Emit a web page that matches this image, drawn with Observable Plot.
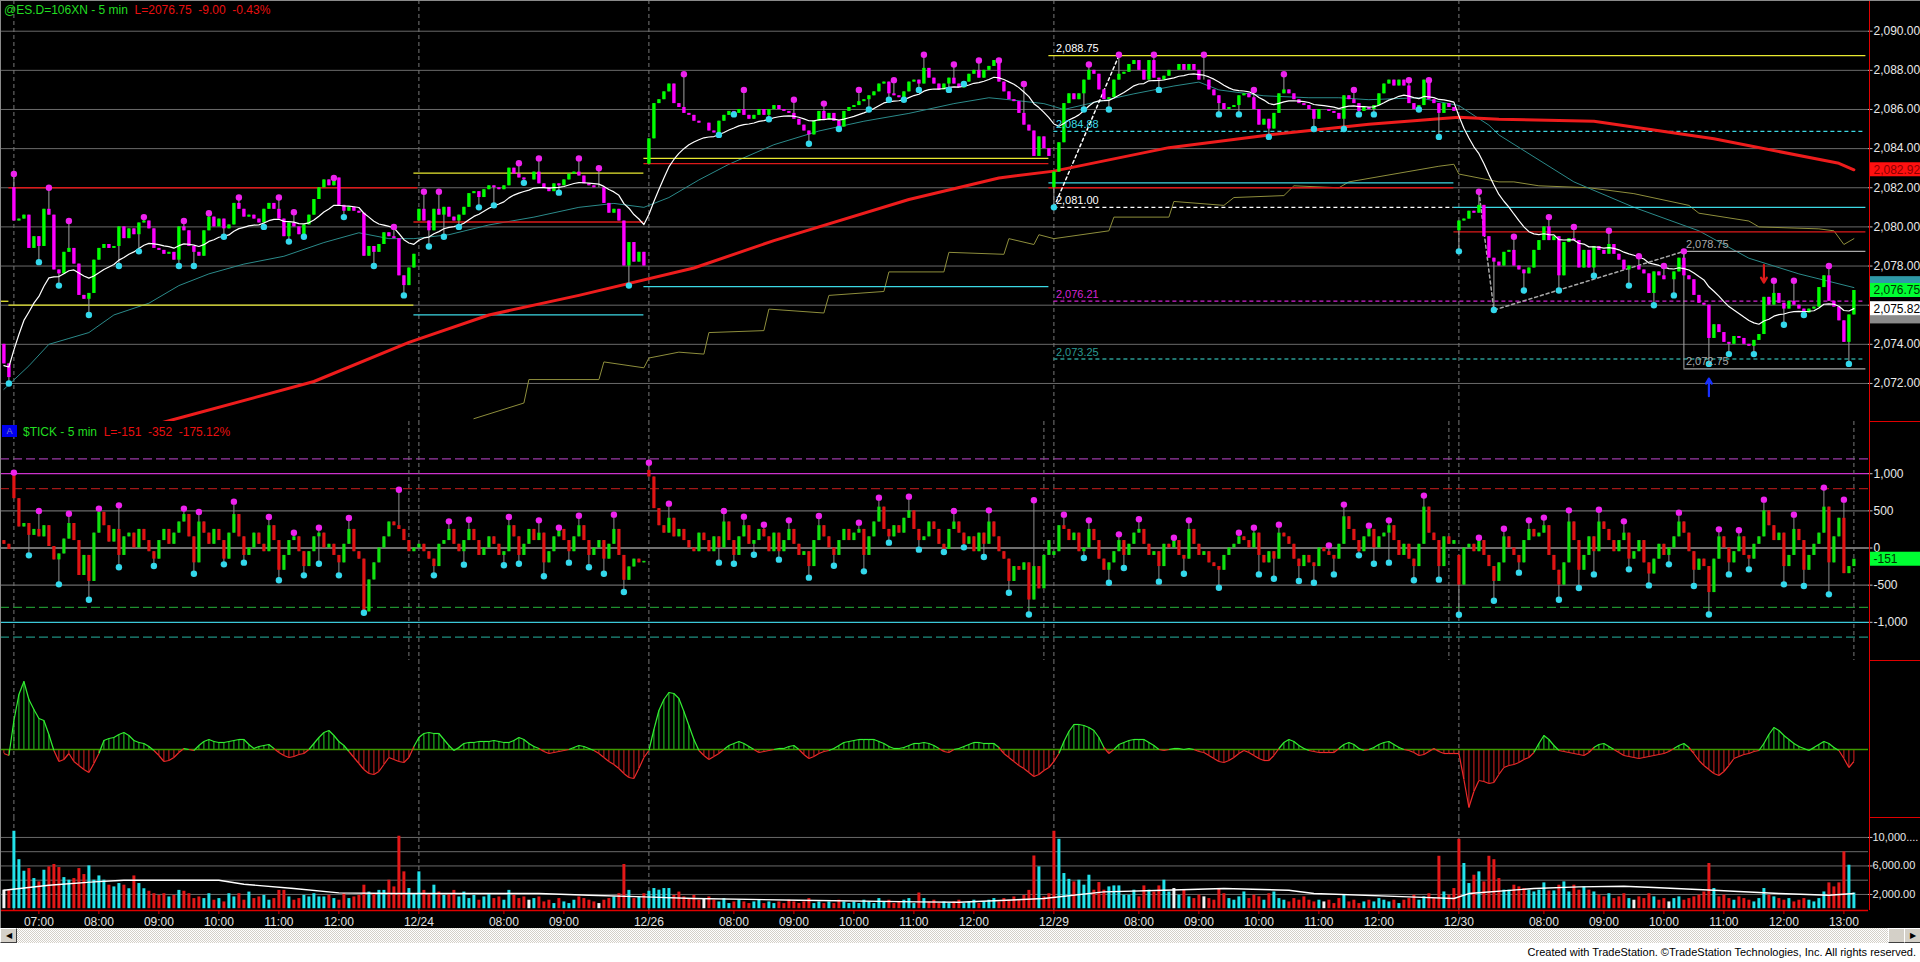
<!DOCTYPE html>
<html><head><meta charset="utf-8">
<script src="https://cdn.jsdelivr.net/npm/d3@7"></script>
<script src="https://cdn.jsdelivr.net/npm/@observablehq/plot@0.6"></script>
<style>
html,body{margin:0;padding:0;background:#fff;width:1920px;height:962px;overflow:hidden;font-family:"Liberation Sans",Arial,sans-serif}
#chart{position:absolute;left:0;top:0;width:1920px;height:928px;background:#000;overflow:hidden}
.panel{position:absolute;left:0}
.ln{position:absolute;background:#e00000}
#hdr1{position:absolute;left:4px;top:3px;font-size:12px;white-space:pre;z-index:5}
#hdr2{position:absolute;left:23px;top:425px;font-size:12px;white-space:pre;z-index:5}
#abox{position:absolute;left:2px;top:425px;width:15px;height:12px;background:#0000ee;color:#8080c0;font-size:9px;text-align:center;line-height:12px;z-index:5}
#scroll{position:absolute;left:0;top:928px;width:1920px;height:15px;background:repeating-conic-gradient(#ffffff 0 25%,#d4d0c8 0 50%) 0 0/2px 2px}
.btn{position:absolute;top:0;width:15px;height:13px;background:#d4d0c8;border:1px solid;border-color:#fff #404040 #404040 #fff;font-size:8px;line-height:13px;text-align:center;color:#000}
#footer{position:absolute;left:0;top:943px;width:1916px;height:19px;background:#fff;text-align:right;font-size:11px;line-height:19px;color:#000;padding-right:4px}
</style></head>
<body>
<div id="chart"></div>
<div id="scroll"><div class="btn" style="left:0">&#9664;</div><div class="btn" style="left:1888px"></div><div class="btn" style="left:1904px">&#9654;</div></div>
<div id="footer">Created with TradeStation. &copy;TradeStation Technologies, Inc. All rights reserved.</div>
<script>
// ===================== DATA =====================
const dayLabels = ["12/23","12/24","12/26","12/29","12/30"];
const dayStarts = [2, 83, 129, 210, 291];
const sessionStart = "06:35";
const dayHourLabels = [
  ["07:00","08:00","09:00","10:00","11:00","12:00"],
  ["08:00","09:00"],
  ["08:00","09:00","10:00","11:00","12:00"],
  ["08:00","09:00","10:00","11:00","12:00"],
  ["08:00","09:00","10:00","11:00","12:00","13:00"]
];
const showDateLabel = [false, true, true, true, true];

// ES 5-min closes (first segment = tail of 12/22)
const priceOpens = [2074.0, 2082.0, 2080.3, 2083.2, 2082.0, 2079.8];
const close1222 = [2073.0, 2072.3];
const close1223 = [
2080.3,2080.4,2080.6,2078.9,2079.5,2079.0,2080.9,2080.6,2077.8,2077.6,
2078.7,2078.9,2078.1,2076.5,2076.3,2076.6,2078.3,2078.9,2079.1,2078.9,
2079.0,2080.0,2079.4,2079.9,2079.6,2080.2,2080.3,2079.9,2078.9,2078.8,
2078.6,2078.7,2078.3,2080.0,2079.8,2079.0,2078.7,2078.5,2079.8,2080.5,
2080.0,2080.4,2079.9,2080.1,2081.2,2080.9,2080.5,2080.6,2080.4,2080.2,
2080.9,2081.2,2080.9,2080.4,2079.5,2080.2,2080.0,2079.6,2080.1,2080.6,
2081.4,2082.0,2082.4,2082.1,2082.5,2081.1,2080.8,2081.0,2080.8,2080.7,
2078.5,2079.0,2078.7,2079.1,2079.7,2079.5,2079.4,2077.5,2077.0,2077.9,
2078.6];
const close1224 = [
2080.9,2080.3,2079.8,2080.9,2080.6,2081.0,2080.5,2080.3,2080.6,2081.0,
2081.7,2081.8,2081.5,2081.9,2082.1,2082.0,2081.9,2082.1,2083.0,2082.7,
2082.5,2082.4,2082.4,2082.8,2082.2,2082.0,2081.8,2082.2,2082.1,2082.4,
2082.7,2082.8,2082.6,2082.2,2082.1,2082.0,2082.0,2081.2,2080.7,2080.9,
2080.3,2078.0,2079.2,2078.2,2078.7,2078.0];
const close1226 = [
2084.5,2086.3,2086.5,2086.9,2087.3,2086.3,2086.1,2085.8,2085.7,2085.4,
2085.3,2085.3,2084.9,2084.8,2085.4,2085.7,2085.9,2085.8,2086.0,2085.7,
2085.5,2085.7,2086.0,2085.7,2086.0,2086.2,2086.0,2085.9,2085.8,2085.5,
2085.2,2084.9,2084.7,2085.4,2085.9,2085.5,2085.8,2085.4,2085.1,2085.9,
2086.1,2086.2,2086.4,2086.5,2086.7,2086.9,2087.3,2087.4,2086.8,2086.7,
2086.6,2086.9,2087.4,2087.5,2087.3,2088.1,2087.6,2087.3,2087.0,2087.3,
2087.6,2087.3,2087.1,2087.4,2087.8,2088.0,2087.6,2088.0,2088.2,2088.5,
2087.4,2086.9,2086.5,2086.4,2085.8,2085.2,2084.9,2083.6,2084.6,2084.0,
2083.6];
const close1229 = [
2082.8,2084.3,2086.3,2086.8,2086.5,2086.8,2087.5,2088.0,2087.8,2087.0,
2086.5,2086.6,2087.5,2087.8,2087.9,2088.3,2088.5,2088.0,2087.5,2088.5,
2087.6,2087.5,2087.7,2088.0,2088.0,2088.3,2088.0,2088.3,2088.0,2087.5,
2087.5,2087.0,2086.7,2086.3,2086.0,2086.1,2086.2,2086.7,2086.8,2086.6,
2086.0,2085.2,2085.5,2085.0,2085.8,2086.8,2087.0,2086.8,2086.5,2086.3,
2086.2,2086.0,2085.5,2086.0,2086.0,2085.9,2085.8,2085.5,2086.7,2086.5,
2086.3,2085.9,2086.1,2086.0,2086.2,2086.8,2087.3,2087.5,2087.2,2087.5,
2087.2,2086.3,2086.0,2086.2,2087.5,2086.5,2086.3,2085.8,2086.3,2086.1,
2085.9];
const close1230 = [
2080.3,2080.4,2080.8,2080.7,2081.1,2079.5,2078.4,2078.2,2078.0,2078.7,
2078.8,2078.0,2077.8,2077.6,2077.9,2078.8,2079.3,2080.0,2079.3,2079.5,
2077.5,2079.2,2079.4,2079.3,2077.9,2078.8,2077.9,2079.0,2078.8,2078.6,
2079.1,2078.6,2078.3,2077.8,2078.0,2078.0,2077.8,2077.6,2076.6,2077.7,
2077.5,2077.3,2077.3,2077.7,2078.4,2077.5,2077.3,2076.5,2076.1,2076.0,
2074.3,2075.0,2074.6,2074.1,2074.0,2074.4,2074.3,2074.0,2073.9,2074.2,
2074.5,2076.4,2076.0,2076.6,2076.1,2075.8,2076.2,2076.0,2075.8,2075.6,
2075.8,2075.9,2076.9,2077.5,2076.2,2075.9,2075.2,2074.1,2075.5,2076.75];

// swing-high (magenta) and swing-low (cyan) markers: [bar, price]
const priceHighs = [[2,2082.7],[9,2082.0],[13,2080.3],[28,2080.5],[36,2080.3],[41,2080.7],[47,2081.5],[55,2081.5],[58,2080.75],[66,2082.5],[78,2080.0],
[84,2081.8],[87,2081.8],[103,2083.25],[107,2083.5],[115,2083.5],[119,2083.0],
[136,2087.8],[148,2087.0],[158,2086.5],[164,2086.3],[171,2087.0],[178,2087.5],[184,2088.8],[190,2088.3],[195,2088.5],[199,2088.5],[204,2087.3],
[217,2088.3],[223,2088.8],[230,2088.8],[240,2088.8],[250,2087.0],[256,2087.8],[270,2087.0],[281,2087.5],[285,2087.5],
[295,2081.8],[302,2079.5],[309,2080.5],[314,2080.0],[321,2079.8],[327,2078.5],[332,2078.0],[336,2078.75],[354,2077.25],[358,2077.25],[365,2078.0]];
const priceLows = [[1,2072.0],[7,2078.2],[11,2077.0],[17,2075.5],[23,2078.0],[27,2078.75],[35,2078.0],[38,2078.0],[44,2079.5],[52,2080.0],[57,2079.25],[60,2079.5],[68,2080.5],[74,2078.0],[80,2076.5],
[85,2079.0],[88,2079.5],[91,2080.0],[95,2081.0],[98,2081.1],[104,2082.25],[111,2081.75],[125,2077.0],
[143,2084.7],[146,2085.75],[153,2085.5],[161,2084.25],[167,2085.0],[173,2086.0],[177,2086.5],[180,2086.5],[183,2087.0],[189,2087.0],[192,2087.3],
[210,2081.0],[216,2086.0],[221,2086.0],[231,2087.0],[243,2085.75],[247,2085.75],[253,2084.6],[262,2085.0],[268,2085.0],[271,2085.75],[274,2085.75],[283,2086.0],[287,2084.6],
[291,2078.75],[298,2075.75],[304,2076.75],[311,2076.75],[318,2077.5],[325,2077.0],[330,2076.0],[334,2076.5],[341,2073.0],[345,2073.5],[350,2073.5],[356,2075.0],[360,2075.5],[369,2073.0]];

// averages: [bar, price]
const fastAvgSeed = 2072.9, fastAvgLength = 16;
const tealAvg = [[0,2071.7],[5,2072.9],[9,2074.0],[13,2074.3],[17,2074.6],[22,2075.5],[29,2076.1],[35,2077.0],[41,2077.6],[48,2078.1],[56,2078.5],[64,2079.2],[71,2079.7],[77,2079.4],[82,2079.4],[89,2079.6],[97,2080.1],[106,2080.5],[115,2081.0],[122,2081.2],[128,2081.0],[133,2081.5],[139,2082.4],[145,2083.2],[154,2084.2],[163,2084.9],[172,2085.4],[181,2085.8],[190,2086.3],[197,2086.6],[201,2086.5],[208,2086.3],[212,2086.0],[217,2086.3],[226,2086.8],[234,2087.2],[239,2087.4],[243,2087.0],[252,2086.7],[261,2086.6],[267,2086.6],[273,2086.5],[283,2086.6],[291,2086.2],[297,2085.2],[299,2084.7],[314,2082.3],[326,2081.0],[339,2079.8],[349,2078.4],[359,2077.6],[370,2076.9]];
const redAvg = [[20,2069.2],[36,2070.3],[62,2072.1],[81,2074.1],[97,2075.5],[115,2076.5],[138,2077.9],[154,2079.3],[181,2081.4],[199,2082.5],[210,2082.85],[233,2084.05],[253,2084.7],[273,2085.25],[291,2085.6],[299,2085.5],[318,2085.4],[342,2084.5],[367,2083.25],[370,2082.92]];
const oliveAvg = [[94,2070.2],[104,2071.0],[105,2072.2],[119,2072.2],[120,2073.1],[128,2072.8],[129,2073.3],[135,2073.6],[140,2073.5],[141,2074.6],[152,2074.7],[153,2075.8],[164,2075.6],[165,2076.5],[176,2076.7],[177,2077.7],[188,2077.7],[189,2078.7],[200,2078.6],[201,2079.4],[206,2079.1],[207,2079.6],[210,2079.4],[221,2079.8],[222,2080.5],[233,2080.5],[234,2081.3],[244,2081.1],[246,2081.5],[256,2081.6],[258,2082.1],[267,2082.0],[269,2082.3],[287,2083.1],[290,2083.2],[291,2082.7],[299,2082.3],[302,2082.3],[307,2082.1],[317,2082.0],[326,2081.7],[337,2081.1],[339,2080.7],[349,2080.3],[351,2080.0],[363,2079.9],[366,2079.8],[368,2079.1],[370,2079.4]];

// horizontal levels: from bar, to bar, price, kind
const END = 372.4;
const priceLevels = [
  {a:-0.7,b:1,p:2076.2,k:"yellow"},
  {a:1,b:82.8,p:2082.0,k:"red"},{a:1,b:82,p:2076.0,k:"yellow"},
  {a:82,b:128,p:2082.75,k:"yellow"},{a:82,b:128,p:2080.25,k:"red"},{a:82,b:128,p:2075.5,k:"cyan"},
  {a:128,b:209,p:2083.5,k:"yellow"},{a:128,b:209,p:2083.23,k:"red"},{a:128,b:209,p:2076.95,k:"cyan"},
  {a:209,b:290,p:2082.25,k:"cyan"},{a:209,b:290,p:2082.0,k:"red"},{a:209,b:END,p:2088.75,k:"yellow"},
  {a:290,b:END,p:2081.0,k:"cyan"},{a:290,b:END,p:2079.75,k:"red"},
  {a:336,b:END,p:2078.75,k:"gray"},{a:336,b:END,p:2072.75,k:"gray"}
];
const priceDashedLevels = [
  {a:210,b:END,p:2084.88,k:"cyan"},{a:210,b:290,p:2081.0,k:"white"},
  {a:210,b:END,p:2076.21,k:"magenta"},{a:210,b:END,p:2073.25,k:"teal"}
];
const boxSide = [{i:336, p1:2078.75, p2:2072.75}];
const levelLabels = [
  {i:210,p:2088.75,t:"2,088.75",k:"white"},{i:210,p:2084.88,t:"2,084.88",k:"cyan"},
  {i:210,p:2081.00,t:"2,081.00",k:"white"},{i:210,p:2076.21,t:"2,076.21",k:"magenta"},
  {i:210,p:2073.25,t:"2,073.25",k:"teal"},{i:336,p:2078.75,t:"2,078.75",k:"gray"},
  {i:336,p:2072.75,t:"2,072.75",k:"gray"}
];
const zigzag = [
  {g:"a",i:210,p:2081.0,k:"white"},{g:"a",i:223,p:2088.75,k:"white"},
  {g:"b",i:295,p:2081.8,k:"gray"},{g:"b",i:298,p:2075.75,k:"gray"},{g:"b",i:336,p:2078.75,k:"gray"}
];
const arrows = [{i:352,from:2078.05,to:2077.15,k:"red"},{i:341,from:2071.35,to:2072.25,k:"blue"}];
const priceTicks = [2072,2074,2076,2078,2080,2082,2084,2086,2088,2090];
const priceTickLabelsShown = [2072,2074,2078,2080,2082,2084,2086,2088,2090];
// price tags on the axis; teal and gray ones sit behind the others (text hidden)
const priceTagsBehind = [{v:2077.10,k:"teal"},{v:2075.40,k:"gray"}];
const priceTags = [
  {v:2082.92,t:"2,082.92",k:"red"},{v:2076.75,t:"2,076.75",k:"green"},{v:2075.82,t:"2,075.82",k:"white"}
];

// $TICK 5-min closes
const tickOpens = [100, 1015, 0, 1045, -100, -100];
const tick1222 = [50,-20];
const tick1223 = [
664,283,330,170,250,150,300,20,-160,-80,
120,330,100,-370,-100,-450,200,480,300,80,
250,-100,150,200,0,250,100,-50,-150,100,
250,50,200,350,450,150,-200,350,200,50,
250,100,-150,200,450,150,-100,0,200,50,
-50,300,100,-300,-100,100,150,-50,-250,-50,
150,200,0,50,-100,-200,50,250,-50,-150,
-860,-430,-200,0,150,350,300,250,100,-50,
0];
const tick1224 = [
50,-50,-150,-250,50,100,250,50,-50,100,
250,100,-100,0,150,50,-100,-50,300,150,
-100,50,250,100,200,-200,-50,150,250,100,
-50,150,300,100,-100,0,100,-150,50,250,
-100,-435,-255,-150,-200,-180];
const tick1226 = [
955,530,300,200,400,150,250,100,0,-50,
200,100,-50,150,0,350,100,-100,150,300,
50,100,250,150,-50,200,-50,100,250,50,
-100,-50,-250,100,300,150,0,-100,100,250,
100,200,250,-100,150,350,550,250,150,300,
200,400,500,250,100,150,350,250,50,-20,
250,350,200,50,150,-50,200,50,350,150,
-50,-150,-450,-250,-300,-200,-700,-250,-550,-100,
100];
const tick1229 = [
-50,300,250,100,200,-50,0,250,100,-150,
-300,-200,-50,100,-100,50,200,250,50,-100,
-50,-250,50,0,100,-100,-150,250,50,-100,
-50,-200,-250,-300,-100,0,50,150,100,0,
200,-100,-200,-50,-150,200,150,50,-150,-250,
-100,-200,-250,0,-50,-100,-150,50,420,250,
100,-50,150,250,0,150,200,300,100,-100,
50,-150,-250,50,550,200,100,-250,150,50,
100];
const tick1230 = [
-500,0,50,-50,100,-100,-250,-450,-200,150,
0,-100,-200,100,250,150,200,300,-100,-300,
-500,-200,350,100,-300,-100,150,-50,350,250,
100,-50,100,200,-150,-50,100,-200,-350,-150,
50,-100,0,150,350,200,-50,-300,-150,-250,
-600,-150,150,0,-200,-50,150,-100,-150,50,
150,500,300,100,200,-250,-100,250,100,-300,
-100,50,200,550,-200,150,400,-345,-250,-151];
const tickHighs = [[2,1015],[7,498],[13,462],[19,530],[23,574],[36,530],[39,485],[46,624],[53,417],[58,206],[63,274],[69,404],[79,785],[89,359],[93,381],[101,417],[107,372],[111,274],[115,435],[122,449],[129,1149],[133,597],[144,498],[148,422],[152,314],[157,372],[163,431],[171,341],[175,678],[181,691],[190,498],[197,507],[206,642],[212,449],[217,372],[223,184],[227,386],[234,139],[237,372],[247,206],[250,274],[255,314],[265,36],[268,584],[273,301],[277,372],[284,705],[295,139],[300,260],[305,372],[308,409],[313,507],[319,516],[324,359],[335,476],[343,251],[347,238],[352,651],[358,449],[364,813],[368,651]];
const tickLows = [[5,-99],[11,-489],[17,-696],[23,-260],[30,-242],[38,-346],[44,-220],[48,-197],[55,-435],[60,-368],[63,-211],[67,-368],[72,-871],[86,-368],[92,-224],[100,-233],[103,-211],[108,-381],[113,-197],[117,-260],[120,-346],[124,-592],[143,-197],[146,-211],[150,-90],[155,-157],[161,-399],[166,-238],[172,-314],[177,72],[183,-22],[188,-54],[192,9],[196,-121],[201,-602],[205,-894],[216,-135],[221,-467],[224,-269],[231,-453],[236,-346],[243,-534],[251,-355],[254,-413],[259,-444],[262,-467],[266,-355],[271,-99],[274,-211],[277,-197],[282,-435],[287,-426],[291,-898],[298,-709],[303,-332],[311,-696],[315,-539],[318,-355],[325,-287],[329,-503],[333,-220],[338,-512],[341,-894],[345,-355],[349,-287],[356,-489],[360,-512],[365,-624]];
const tickBands = [{v:1200,k:"purpleD"},{v:1000,k:"magenta"},{v:800,k:"redD"},{v:500,k:"grid"},{v:0,k:"zero"},{v:-500,k:"grid"},{v:-800,k:"greenD"},{v:-1000,k:"cyan"},{v:-1200,k:"tealD"}];
const tickTicks = [1000,500,0,-500,-1000];
const tickTags = [{v:-151,t:"-151",k:"green"}];
const tickSessionEnds = [81, 208, 289, 370];

// oscillator (one value per bar, zero = centre line)
const osc = [
-4,-6,29,55,68,50,40,31,29,15,
-1,-12,-10,-4,-12,-16,-20,-23,-14,-4,
9,11,12,15,17,14,9,7,6,3,
-1,-6,-12,-11,-8,-3,1,0,-1,4,
8,10,8,7,7,8,9,10,10,5,
1,3,4,5,1,-3,-6,-8,-7,-5,
-4,0,6,12,17,19,14,8,4,-2,
-8,-14,-20,-24,-25,-22,-15,-8,-10,-12,
-13,-8,3,12,16,17,16,16,10,4,
-1,2,6,7,7,8,8,8,9,8,
7,7,9,12,10,6,3,1,-2,-4,
-3,-2,-1,0,2,4,3,1,-1,-4,
-8,-12,-15,-19,-24,-28,-29,-19,-8,-1,
20,39,50,57,56,51,38,24,10,-1,
-6,-10,-7,-4,0,4,6,8,6,3,
0,-3,-2,-1,0,1,1,3,4,0,
-5,-9,-7,-4,-2,-1,1,4,7,8,
9,10,10,10,10,8,6,3,1,1,
2,4,6,6,7,6,4,1,-2,-3,
0,1,3,5,7,7,6,6,6,2,
-4,-8,-12,-16,-19,-23,-27,-25,-21,-18,
-12,-4,8,18,25,25,24,22,19,12,
2,-4,0,5,7,9,10,10,10,7,
4,0,-1,0,1,1,0,1,0,-2,
-3,-6,-9,-12,-13,-11,-8,-4,-1,-3,
-6,-9,-11,-11,-6,1,7,10,8,4,
1,-1,-2,-3,-3,-3,-3,1,5,7,
5,1,-1,0,2,5,7,8,5,2,
0,-1,-3,-6,-5,-2,1,-2,-4,-4,
-4,-4,-30,-58,-42,-31,-32,-34,-33,-25,
-18,-16,-15,-13,-10,-8,-3,6,14,10,
4,-1,-2,-3,-4,-5,-6,-3,2,5,
6,3,0,-3,-6,-7,-8,-9,-8,-7,
-6,-5,-4,-2,1,4,6,2,-4,-11,
-16,-20,-24,-26,-22,-16,-9,-7,-5,-4,
-2,-1,6,15,22,19,14,10,6,3,
1,-1,2,5,8,6,2,-1,-9,-18,
-12];

// volume per bar
const vol1222 = [2600,2600];
const vol1223 = [
10870,6880,5260,5630,4230,3765,5400,5870,6200,5775,
4365,4000,4230,5630,4795,6010,4000,4600,4000,3300,
3060,3530,3300,2800,4600,3530,2800,2450,2100,1870,
2100,1650,1870,2570,2450,2100,1420,1650,1420,2100,
1190,1420,950,2100,1650,2100,1190,2330,1420,1650,
1870,1190,1420,2570,2570,1650,1190,1420,1870,1650,
2100,1650,1650,1870,1420,1190,2100,1420,1650,1870,
3300,2330,2100,2570,2570,4000,3060,10170,5170,2830,
2000];
const vol1224 = [
5170,2570,2100,3300,2330,1870,2100,2570,1650,2330,
1420,1870,1190,1650,2100,1420,1650,1190,2570,1870,
1420,1650,1190,1420,1650,950,1190,720,1420,950,
720,1190,1650,1420,1190,950,720,1190,1420,1650,
2100,6200,2570,1420,1650,2100];
const vol1226 = [
2450,2830,2600,2830,2830,1870,2330,1650,1420,1870,
1190,1420,1650,1190,950,1420,720,950,1190,950,
720,950,1190,720,950,720,950,720,1190,950,
720,950,1420,720,950,720,950,720,1190,950,
720,950,720,1190,950,720,1420,950,1190,720,
950,1190,1420,720,2200,1420,950,1190,720,950,
720,950,1190,720,950,1190,720,950,1190,1420,
950,1420,1190,1650,1190,1870,2570,7400,5870,1650,
2100];
const vol1229 = [
10870,9740,4935,4120,3765,4000,3300,4700,2600,3670,
2600,3060,3200,3200,1900,1900,2600,1660,3200,2600,
2350,3200,4000,2350,2830,1900,2600,1660,1420,1900,
1660,1420,1190,2830,2100,1420,1190,1660,2350,1420,
1900,1660,1190,2100,2350,1420,1190,950,1420,1190,
1660,1190,950,1190,950,1190,720,1420,1900,950,
1190,720,950,1190,950,1420,1190,950,1190,720,
1190,1420,1900,1190,1660,2100,1420,7360,2350,1900,
2830];
const vol1230 = [
9740,6340,3530,4700,5170,3765,7360,6880,4230,2600,
2600,3300,3060,2830,2600,2350,2600,3625,2500,2500,
3300,3765,2350,3300,2600,3060,2600,2350,1900,1660,
2100,1420,1660,2100,1420,1190,1660,1420,2100,1660,
1190,1420,950,1420,1660,1190,1420,1660,1900,2350,
6340,2830,1660,1900,1420,1190,1660,1420,1190,950,
1420,2830,1900,1660,1420,1190,1420,950,1190,1420,
1190,950,1420,2350,3625,3060,3625,7975,6100,2200];
const volAvg = [[0,2596],[9,3297],[18,3766],[24,4000],[43,4000],[48,3437],[58,2830],[67,2222],[78,2127],[107,2127],[117,1894],[128,1660],[138,1426],[159,1193],[183,958],[191,900],[208,1426],[220,2360],[232,2596],[244,2830],[257,2596],[262,2127],[281,1660],[290,1426],[293,2127],[306,2830],[315,3063],[324,3157],[330,2970],[342,2596],[355,2127],[365,1894],[370,2127]];
const volGrid = [2000,4000,6000,8000,10000];
const volTicks = [10000,6000,2000];
const volTickLabels = ["10,000....","6,000.00","2,000.00"];

// ===================== BUILD =====================
function buildBars(segs, opens, highs, lows) {
  const out = []; let i = 0;
  segs.forEach((seg, s) => seg.forEach((c, k) => { out.push({i, o: k === 0 ? opens[s] : seg[k-1], c}); i++; }));
  const hm = new Map(highs), lm = new Map(lows);
  out.forEach(b => {
    b.hi = Math.max(b.o, b.c, hm.has(b.i) ? hm.get(b.i) : -Infinity);
    b.lo = Math.min(b.o, b.c, lm.has(b.i) ? lm.get(b.i) : Infinity);
  });
  return out;
}
const bars = buildBars([close1222,close1223,close1224,close1226,close1229,close1230], priceOpens, priceHighs, priceLows);
const tbars = buildBars([tick1222,tick1223,tick1224,tick1226,tick1229,tick1230], tickOpens, tickHighs, tickLows);
let ema = fastAvgSeed;
const fastAvg = bars.map(b => { ema += (b.c - ema) * 2 / (fastAvgLength + 1); return {i: b.i, v: ema}; });
const vols = [].concat(vol1222, vol1223, vol1224, vol1226, vol1229, vol1230).map((v, i) => {
  const d = i === 0 ? 0 : bars[i].c - bars[i-1].c;
  return {i, v, k: Math.abs(d) < 1e-9 ? "flat" : d > 0 ? "up" : "down"};
});
const oscBars = osc.map((v, i) => ({i, v}));
const oscSegs = osc.slice(1).map((v, k) => ({i1: k, v1: osc[k], i2: k + 1, v2: v}));
const toMin = t => { const [h, m] = t.split(":").map(Number); return h * 60 + m; };
const timeTicks = [];
dayStarts.forEach((s, d) => {
  if (showDateLabel[d]) timeTicks.push({i: s, label: dayLabels[d]});
  dayHourLabels[d].forEach(t => timeTicks.push({i: s + (toMin(t) - toMin(sessionStart)) / 5, label: t}));
});

// ===================== STYLE =====================
const W = 1920, AXW = 52;
const xDomain = [-0.68, 372.92];
const xEnd = xDomain[1];
const font = "'Liberation Sans', Arial, sans-serif";
const C = {
  grid:"#6a6a6a", up:"#00ff00", down:"#ff00ff", wick:"#a0a0a0", hiDot:"#ee22ee", loDot:"#33d8ec",
  yellow:"#e8e830", red:"#dd1a1a", cyan:"#3cd8e4", gray:"#a8a8a8", white:"#ffffff", magenta:"#d424d4",
  teal:"#2a9a92", blue:"#1830ff", green:"#00ee00", axis:"#e8e8e8", dayLine:"#777777"
};
const tagBg = {red:"#ff1010", teal:"#2f9aa8", gray:"#8a8a8a", green:"#00ff33", white:"#ffffff"};
const tagFg = {red:"#8a0000", teal:"#dff", gray:"#222", green:"#003300", white:"#000000"};
const bandStyle = {
  purpleD:{s:"#9a3aa6",d:"9,4"}, magenta:{s:"#cc33cc",d:null}, redD:{s:"#a01818",d:"9,4"},
  grid:{s:"#6a6a6a",d:null}, zero:{s:"#e0e0e0",d:null}, greenD:{s:"#1f8f2f",d:"9,4"},
  cyan:{s:"#3cc8d8",d:null}, tealD:{s:"#1f8f80",d:"9,4"}
};
const volColor = {up:"#22e2ea", down:"#e41818", flat:"#f2f2f2"};

function panel(top, h, yd, marks, mb = 0) {
  const p = Plot.plot({
    width: W, height: h + mb, marginLeft: 0, marginRight: AXW, marginTop: 0, marginBottom: mb,
    x: {domain: xDomain, axis: null},
    y: {domain: yd, axis: null},
    color: {type: "identity"},
    style: {background: "transparent", color: C.axis, fontFamily: font, fontSize: "12px", overflow: "visible"},
    marks
  });
  const div = document.createElement("div");
  div.className = "panel"; div.style.top = top + "px";
  div.appendChild(p);
  document.getElementById("chart").appendChild(div);
}
function axisMarks(ticks, labelTicks, fmt) {
  return [
    Plot.ruleY(ticks, {y: d => d, x1: xEnd, x2: xEnd + 0.9, stroke: "#c8c8c8"}),
    Plot.text(labelTicks, {y: d => d, x: xEnd + 1, text: fmt, textAnchor: "start", fill: C.axis, fontSize: 12})
  ];
}
function tagBoxes(tags, yd, h) {
  const u = (yd[1] - yd[0]) / h;
  return Plot.rect(tags, {x1: xEnd + 0.2, x2: xEnd + 11, y1: d => d.v - 7 * u, y2: d => d.v + 7 * u, fill: d => tagBg[d.k]});
}
function tagMarks(tags, yd, h) {
  return [
    tagBoxes(tags, yd, h),
    Plot.text(tags, {x: xEnd + 1, y: d => d.v, text: "t", textAnchor: "start", fill: d => tagFg[d.k], fontSize: 12})
  ];
}
const fmtPrice = d3.format(",.2f");
const fmtInt = d => (d < 0 ? "-" : "") + d3.format(",")(Math.abs(d));

// ---------- Price panel ----------
const pTop = 0, pH = 421, pYD = [2070.056, 2091.569];
panel(pTop, pH, pYD, [
  Plot.ruleY(priceTicks, {y: d => d, stroke: C.grid}),
  Plot.ruleX(dayStarts, {x: d => d, stroke: C.dayLine, strokeDasharray: "4,3"}),
  Plot.line(oliveAvg, {x: d => d[0], y: d => d[1], stroke: "#8e8e3c", strokeWidth: 1, clip: true}),
  Plot.line(tealAvg, {x: d => d[0], y: d => d[1], stroke: "#2b8a8a", strokeWidth: 1, clip: true}),
  Plot.ruleY(priceLevels, {y: "p", x1: "a", x2: "b", stroke: d => C[d.k], strokeWidth: 1.3}),
  Plot.ruleY(priceDashedLevels, {y: "p", x1: "a", x2: "b", stroke: d => C[d.k], strokeWidth: 1.3, strokeDasharray: "4,3"}),
  Plot.ruleX(boxSide, {x: "i", y1: "p1", y2: "p2", stroke: C.gray}),
  Plot.line(zigzag, {x: "i", y: "p", z: "g", stroke: d => C[d.k], strokeDasharray: "3,3"}),
  Plot.line(redAvg, {x: d => d[0], y: d => d[1], stroke: "#ee1c1c", strokeWidth: 3, clip: true}),
  Plot.ruleX(bars, {x: "i", y1: "lo", y2: "hi", stroke: C.wick}),
  Plot.ruleX(bars, {filter: d => d.c >= d.o, x: "i", y1: "o", y2: "c", stroke: C.up, strokeWidth: 3.4}),
  Plot.ruleX(bars, {filter: d => d.c < d.o, x: "i", y1: "o", y2: "c", stroke: C.down, strokeWidth: 3.4}),
  Plot.line(fastAvg, {x: "i", y: "v", stroke: C.white, strokeWidth: 1.2}),
  Plot.dot(priceHighs, {x: d => d[0], y: d => d[1], r: 3.2, fill: C.hiDot}),
  Plot.dot(priceLows, {x: d => d[0], y: d => d[1], r: 3.2, fill: C.loDot}),
  Plot.arrow(arrows, {x1: "i", x2: "i", y1: "from", y2: "to", stroke: d => C[d.k], strokeWidth: 2.2, headLength: 7}),
  Plot.text(levelLabels, {x: "i", y: "p", text: "t", fill: d => C[d.k], textAnchor: "start", dx: 2, dy: -7, fontSize: 11}),
  ...axisMarks(priceTicks, priceTickLabelsShown, fmtPrice),
  tagBoxes(priceTagsBehind, pYD, pH),
  ...tagMarks(priceTags, pYD, pH)
]);

// ---------- TICK panel ----------
const tTop = 421, tH = 239, tYD = [-1514.1, 1702.6];
const bandsSolid = tickBands.filter(b => !bandStyle[b.k].d);
const bandsDashed = tickBands.filter(b => bandStyle[b.k].d);
panel(tTop, tH, tYD, [
  Plot.ruleY(bandsSolid, {y: "v", stroke: d => bandStyle[d.k].s, strokeWidth: 1.2}),
  Plot.ruleY(bandsDashed, {y: "v", stroke: d => bandStyle[d.k].s, strokeWidth: 1.2, strokeDasharray: "9,4"}),
  Plot.ruleX(dayStarts.concat(tickSessionEnds), {x: d => d, stroke: C.dayLine, strokeDasharray: "4,3"}),
  Plot.ruleX(tbars, {x: "i", y1: "lo", y2: "hi", stroke: "#8c8c8c"}),
  Plot.ruleX(tbars, {filter: d => d.c >= d.o, x: "i", y1: "o", y2: "c", stroke: "#11e011", strokeWidth: 3.2}),
  Plot.ruleX(tbars, {filter: d => d.c < d.o, x: "i", y1: "o", y2: "c", stroke: "#e01414", strokeWidth: 3.2}),
  Plot.dot(tickHighs, {x: d => d[0], y: d => d[1], r: 3.2, fill: C.hiDot}),
  Plot.dot(tickLows, {x: d => d[0], y: d => d[1], r: 3.2, fill: C.loDot}),
  ...axisMarks(tickTicks, tickTicks, fmtInt),
  ...tagMarks(tickTags, tYD, tH)
]);

// ---------- Oscillator panel ----------
const oTop = 660, oH = 157, oYD = [-68, 89];
panel(oTop, oH, oYD, [
  Plot.ruleX(dayStarts, {x: d => d, stroke: C.dayLine, strokeDasharray: "4,3"}),
  Plot.ruleX(oscBars, {x: "i", y1: 0, y2: "v", stroke: d => d.v >= 0 ? "#22d022" : "#d82020", strokeWidth: 1}),
  Plot.ruleY([0], {stroke: "#3f9a00", strokeWidth: 1.6}),
  Plot.link(oscSegs, {x1: "i1", y1: "v1", x2: "i2", y2: "v2", stroke: d => (d.v1 + d.v2) >= 0 ? "#33ee33" : "#ee2a2a", strokeWidth: 1.2})
]);

// ---------- Volume panel ----------
const vTop = 817, vH = 93, vYD = [-253, 12800];
const vu = (vYD[1] - vYD[0]) / vH;
panel(vTop, vH, vYD, [
  Plot.ruleY(volGrid, {y: d => d, stroke: C.grid}),
  Plot.ruleX(dayStarts, {x: d => d, stroke: C.dayLine, strokeDasharray: "4,3"}),
  Plot.ruleX(vols, {x: "i", y1: 0, y2: "v", stroke: d => volColor[d.k], strokeWidth: 3}),
  Plot.line(volAvg, {x: d => d[0], y: d => d[1], stroke: "#ffffff", strokeWidth: 1.4}),
  Plot.ruleY([vYD[0]], {stroke: "#e00000", strokeWidth: 1.5}),
  Plot.ruleX(timeTicks, {x: "i", y1: vYD[0], y2: vYD[0] - 4 * vu, stroke: "#e00000"}),
  Plot.text(timeTicks, {x: "i", y: vYD[0], text: "label", dy: 12, fill: "#e0e0e0", fontSize: 12}),
  Plot.ruleY(volTicks, {y: d => d, x1: xEnd, x2: xEnd + 0.9, stroke: "#c8c8c8"}),
  Plot.text(volTicks, {y: d => d, x: xEnd + 0.8, text: (d, k) => volTickLabels[k], textAnchor: "start", fill: C.axis, fontSize: 11})
], 18);

// ---------- frame lines & headers ----------
const chart = document.getElementById("chart");
function line(l, t, w, h, c) { const e = document.createElement("div"); e.className = "ln"; Object.assign(e.style, {left: l + "px", top: t + "px", width: w + "px", height: h + "px"}); if (c) e.style.background = c; chart.appendChild(e); }
line(1869, 0, 1, 910);
line(1869, 421, 51, 1); line(1869, 660, 51, 1); line(1869, 817, 51, 1);
line(0, 0, 1920, 1, "#8a8a8a"); line(0, 0, 1, 928, "#8a8a8a");
const h1 = document.createElement("div"); h1.id = "hdr1";
h1.innerHTML = '<span style="color:#22dd22">@ES.D=106XN - 5 min</span>  <span style="color:#e81010">L=2076.75  -9.00  -0.43%</span>';
chart.appendChild(h1);
const ab = document.createElement("div"); ab.id = "abox"; ab.textContent = "A"; chart.appendChild(ab);
const h2 = document.createElement("div"); h2.id = "hdr2";
h2.innerHTML = '<span style="color:#22dd22">$TICK - 5 min</span>  <span style="color:#e81010">L=-151  -352  -175.12%</span>';
chart.appendChild(h2);
</script>
</body></html>
